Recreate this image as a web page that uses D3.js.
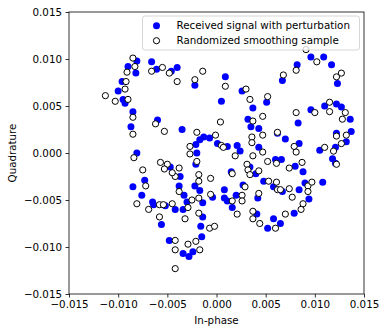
<!DOCTYPE html>
<html>
<head>
<meta charset="utf-8">
<script src="https://cdn.jsdelivr.net/npm/d3@7"></script>
<style>
  body { margin: 0; background: #fff; }
  svg { display: block; font-family: "DejaVu Sans", sans-serif; }
</style>
</head>
<body>
<svg id="chart"></svg>
<script>
// received signal with perturbation (blue dots)
const perturbed = [
  [-0.0090, 0.0092], [-0.0081, 0.0098], [-0.0082, 0.0085], [-0.0096, 0.0076],
  [-0.0100, 0.0066], [-0.0095, 0.0057], [-0.0093, 0.0053], [-0.0085, 0.0044],
  [-0.0087, 0.0028], [-0.0081, 0.0000], [-0.0066, 0.0097], [-0.0061, 0.0089],
  [-0.0046, 0.0087], [-0.0040, 0.0091], [-0.0060, 0.0035], [-0.0035, 0.0025],
  [-0.0022, 0.0072], [-0.0021, 0.0009], [-0.0020, 0.0000], [-0.0021, -0.0012],
  [-0.0017, 0.0014], [0.0009, 0.0081], [0.0005, 0.0055], [0.0026, 0.0066],
  [0.0037, 0.0048], [0.0051, 0.0054], [0.0032, 0.0036], [0.0035, 0.0028],
  [0.0043, 0.0026], [0.0062, 0.0021], [0.0070, 0.0015], [0.0084, 0.0010],
  [0.0083, 0.0032], [0.0067, 0.0077], [0.0082, 0.0094], [0.0096, 0.0102],
  [0.0109, 0.0102], [0.0117, 0.0094], [0.0123, 0.0074], [0.0096, 0.0046],
  [0.0110, 0.0050], [0.0122, 0.0052], [0.0127, 0.0049], [0.0136, 0.0036],
  [0.0137, 0.0023], [0.0132, 0.0012], [0.0122, 0.0021], [0.0121, 0.0006],
  [0.0105, 0.0003], [0.0118, -0.0006], [0.0121, -0.0011], [-0.0013, 0.0017],
  [-0.0007, 0.0016], [0.0011, 0.0007], [0.0001, 0.0010], [0.0021, 0.0008],
  [0.0024, 0.0002], [0.0043, 0.0006], [0.0060, -0.0007], [0.0066, -0.0007],
  [0.0080, -0.0014], [-0.0085, -0.0036], [-0.0076, -0.0045], [-0.0073, -0.0029],
  [-0.0065, -0.0052], [-0.0064, -0.0055], [-0.0052, -0.0056], [-0.0056, -0.0076],
  [-0.0048, -0.0093], [-0.0042, -0.0060], [-0.0038, -0.0035], [-0.0037, -0.0025],
  [-0.0033, -0.0045], [-0.0030, -0.0052], [-0.0034, -0.0060], [-0.0022, -0.0035],
  [-0.0034, -0.0107], [-0.0028, -0.0110], [-0.0024, -0.0105], [-0.0047, -0.0015],
  [-0.0017, -0.0040], [-0.0014, -0.0053], [-0.0014, -0.0068], [-0.0016, -0.0078],
  [-0.0015, -0.0089], [0.0008, -0.0039], [0.0008, -0.0048], [0.0011, -0.0051],
  [0.0016, -0.0058], [0.0020, -0.0045], [0.0027, -0.0034], [0.0015, -0.0020],
  [0.0034, -0.0015], [0.0048, -0.0030], [0.0058, -0.0036], [0.0067, -0.0041],
  [0.0042, -0.0048], [0.0041, -0.0065], [0.0058, -0.0070], [0.0065, -0.0075],
  [0.0052, -0.0080], [0.0079, -0.0064], [0.0094, -0.0049], [0.0084, -0.0039],
  [0.0090, -0.0032], [0.0088, -0.0020], [0.0108, -0.0031], [-0.0004, -0.0047],
  [0.0040, -0.0022]
];

// randomized smoothing samples (hollow circles)
const smoothed = [
  [-0.0085, 0.0101], [-0.0083, 0.0092], [-0.0091, 0.0086], [-0.0092, 0.0076],
  [-0.0093, 0.0068], [-0.0090, 0.0057], [-0.0103, 0.0055], [-0.0113, 0.0061],
  [-0.0085, 0.0038], [-0.0085, 0.0020], [-0.0084, -0.0005], [-0.0066, 0.0087],
  [-0.0055, 0.0091], [-0.0048, 0.0085], [-0.0040, 0.0076], [-0.0062, 0.0031],
  [-0.0053, 0.0023], [-0.0020, 0.0022], [-0.0027, 0.0007], [-0.0027, -0.0001],
  [-0.0020, -0.0009], [-0.0057, -0.0010], [-0.0050, -0.0012], [-0.0053, -0.0017],
  [-0.0038, -0.0016], [-0.0075, -0.0018], [-0.0022, 0.0078], [-0.0014, 0.0087],
  [0.0009, 0.0071], [0.0030, 0.0068], [0.0034, 0.0057], [0.0052, 0.0060],
  [0.0047, 0.0039], [0.0037, 0.0034], [0.0004, 0.0033], [0.0081, 0.0043],
  [0.0100, 0.0043], [0.0115, 0.0054], [0.0115, 0.0044], [0.0131, 0.0043],
  [0.0128, 0.0036], [0.0132, 0.0019], [0.0127, 0.0010], [0.0110, 0.0006],
  [0.0119, 0.0002], [0.0068, 0.0083], [0.0081, 0.0088], [0.0091, 0.0110],
  [0.0102, 0.0097], [0.0127, 0.0085], [0.0122, 0.0081], [0.0062, 0.0022],
  [0.0047, 0.0019], [0.0036, 0.0017], [0.0036, 0.0011], [0.0079, 0.0007],
  [0.0081, 0.0001], [0.0037, -0.0003], [0.0047, 0.0001], [0.0019, -0.0003],
  [0.0005, 0.0008], [0.0007, 0.0006], [-0.0001, 0.0019], [0.0087, -0.0010],
  [0.0074, -0.0016], [0.0061, -0.0011], [0.0052, -0.0009], [0.0031, -0.0012],
  [0.0043, -0.0019], [-0.0072, -0.0035], [-0.0081, -0.0054], [-0.0069, -0.0060],
  [-0.0058, -0.0068], [-0.0058, -0.0055], [-0.0054, -0.0055], [-0.0045, -0.0054],
  [-0.0038, -0.0041], [-0.0042, -0.0025], [-0.0032, -0.0070], [-0.0029, -0.0058],
  [-0.0025, -0.0050], [-0.0018, -0.0064], [-0.0042, -0.0093], [-0.0042, -0.0103],
  [-0.0029, -0.0097], [-0.0021, -0.0094], [-0.0042, -0.0123], [-0.0017, -0.0103],
  [-0.0018, -0.0023], [-0.0018, -0.0030], [-0.0006, -0.0027], [-0.0006, -0.0044],
  [-0.0018, -0.0048], [-0.0007, -0.0080], [-0.0002, -0.0078], [0.0016, -0.0022],
  [0.0032, -0.0018], [0.0034, -0.0023], [0.0029, -0.0036], [0.0026, -0.0045],
  [0.0026, -0.0051], [0.0016, -0.0051], [0.0021, -0.0065], [0.0043, -0.0043],
  [0.0037, -0.0062], [0.0037, -0.0070], [0.0044, -0.0075], [0.0053, -0.0030],
  [0.0061, -0.0031], [0.0062, -0.0039], [0.0065, -0.0039], [0.0074, -0.0038],
  [0.0077, -0.0047], [0.0070, -0.0065], [0.0060, -0.0080], [0.0086, -0.0060],
  [0.0088, -0.0054], [0.0093, -0.0035], [0.0093, -0.0041], [0.0097, -0.0031],
  [0.0122, -0.0012], [-0.0045, -0.0021], [0.0122, 0.0018]
];

const xTicks = [-0.015, -0.010, -0.005, 0.000, 0.005, 0.010, 0.015];
const yTicks = [-0.015, -0.010, -0.005, 0.000, 0.005, 0.010, 0.015];
const legendLabels = ["Received signal with perturbation", "Randomized smoothing sample"];

const width = 388, height = 333;
const margin = { top: 12, right: 24, bottom: 39, left: 69 };
const innerWidth = width - margin.left - margin.right;
const innerHeight = height - margin.top - margin.bottom;

const svg = d3.select("#chart").attr("width", width).attr("height", height);
const g = svg.append("g").attr("transform", `translate(${margin.left},${margin.top})`);

const x = d3.scaleLinear().domain([-0.015, 0.015]).range([0, innerWidth]);
const y = d3.scaleLinear().domain([-0.015, 0.015]).range([innerHeight, 0]);

const fmt = d => d3.format(".3f")(d).replace("-", "\u2212");

// points: blue first, hollow on top
g.selectAll("circle.pert")
  .data(perturbed)
  .enter().append("circle")
  .attr("class", "pert")
  .attr("cx", d => x(d[0]))
  .attr("cy", d => y(d[1]))
  .attr("r", 3.5)
  .attr("fill", "#0000ff");

g.selectAll("circle.smooth")
  .data(smoothed)
  .enter().append("circle")
  .attr("class", "smooth")
  .attr("cx", d => x(d[0]))
  .attr("cy", d => y(d[1]))
  .attr("r", 3.1)
  .attr("fill", "#fff")
  .attr("stroke", "#000")
  .attr("stroke-width", 1);

// axes
const xAxis = g.append("g")
  .attr("transform", `translate(0,${innerHeight})`)
  .call(d3.axisBottom(x).tickValues(xTicks).tickFormat(fmt).tickSize(3.5).tickPadding(3.5));
const yAxis = g.append("g")
  .call(d3.axisLeft(y).tickValues(yTicks).tickFormat(fmt).tickSize(3.5).tickPadding(3.5));

[xAxis, yAxis].forEach(a => {
  a.select(".domain").remove();
  a.selectAll(".tick line").attr("stroke", "#000").attr("stroke-width", 0.8);
  a.selectAll(".tick text")
    .attr("fill", "#000")
    .style("font-size", "10.3px")
    .style("font-family", "DejaVu Sans, sans-serif");
});

// frame
g.append("rect")
  .attr("width", innerWidth)
  .attr("height", innerHeight)
  .attr("fill", "none")
  .attr("stroke", "#000")
  .attr("stroke-width", 0.8);

// axis labels
g.append("text")
  .attr("x", innerWidth / 2)
  .attr("y", innerHeight + 30)
  .attr("text-anchor", "middle")
  .style("font-size", "10.3px")
  .text("In-phase");

g.append("text")
  .attr("transform", "rotate(-90)")
  .attr("x", -innerHeight / 2)
  .attr("y", -53)
  .attr("text-anchor", "middle")
  .style("font-size", "10.3px")
  .text("Quadrature");

// legend
const legend = g.append("g").attr("transform", `translate(${142.5 - margin.left},${16 - margin.top})`);
legend.append("rect")
  .attr("width", 217)
  .attr("height", 34)
  .attr("rx", 2.5)
  .attr("fill", "rgba(255,255,255,0.8)")
  .attr("stroke", "#cccccc")
  .attr("stroke-width", 0.8);

legendLabels.forEach((label, i) => {
  const item = legend.append("g").attr("transform", `translate(14,${9.7 + i * 15})`);
  if (i === 0) {
    item.append("circle").attr("r", 3.5).attr("fill", "#0000ff");
  } else {
    item.append("circle").attr("r", 3.1).attr("fill", "#fff").attr("stroke", "#000").attr("stroke-width", 1);
  }
  item.append("text")
    .attr("x", 20)
    .attr("y", 3.6)
    .style("font-size", "10.3px")
    .text(label);
});
</script>
</body>
</html>
